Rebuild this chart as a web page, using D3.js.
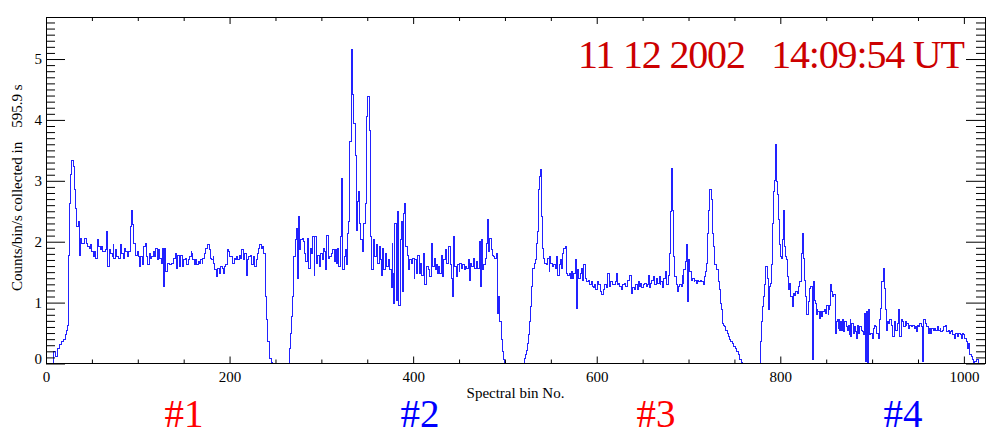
<!DOCTYPE html>
<html><head><meta charset="utf-8">
<script src="https://cdn.jsdelivr.net/npm/d3@7"></script>
<style>
body{margin:0;background:#fff}
svg{display:block}
text{font-family:"Liberation Serif","Times New Roman",serif}
</style>
</head><body>
<svg id="c" width="995" height="436"></svg>
<script>
// ---- data (spectral bin number -> counts/bin/s) ----
const binsA = [
0,8,10,12,13,15,17,19,21,22,
23,24,25,26,27,28,30,31,32,33,
35,36,37,38,39,41,42,44,45,47,
48,50,52,53,54,56,57,59,61,62,
65,66,67,69,70,72,73,74,76,77,
79,81,82,84,85,87,89,90,92,93,
94,95,97,98,100,101,102,103,105,106,
108,110,111,113,114,115,117,118,119,121,
123,124,126,127,128,129,130,132,134,135,
137,139,141,142,143,145,146,147,149,150,
152,153,155,156,158,159,160,162,163,164,
166,167,168,170,171,173,174,176,178,179,
180,182,183,184,186,187,189,190,192,193,
195,196,198,199,200,202,203,205,206,208,
209,211,212,213,215,216,218,219,221];
const countsA = [
0,0.20,0.11,0.20,0.25,0.31,0.36,0.40,0.47,0.55,
0.63,1.02,1.78,2.63,3.10,3.34,3.23,2.85,2.55,2.25,
2.33,2.19,1.78,2.05,1.97,1.97,2.06,1.97,1.92,1.89,
1.95,1.84,1.76,1.84,1.73,2.03,1.92,1.87,1.92,1.84,
1.87,2.17,1.59,1.87,1.81,1.76,1.95,1.73,1.87,1.76,
1.73,1.95,1.81,1.73,1.89,1.84,1.76,1.84,2.25,2.52,
2.28,1.97,1.87,1.78,1.84,1.76,1.59,1.76,1.62,1.92,
1.97,1.76,1.62,1.81,1.73,1.76,1.84,1.76,1.89,1.70,
1.87,1.73,1.65,1.89,1.26,1.89,1.51,1.65,1.65,1.62,
1.65,1.73,1.81,1.56,1.78,1.59,1.70,1.78,1.59,1.70,
1.73,1.62,1.70,1.76,1.84,1.81,1.70,1.62,1.70,1.62,
1.67,1.65,1.70,1.65,1.73,1.81,1.89,1.95,1.87,1.73,
1.70,1.76,1.65,1.54,1.43,1.56,1.48,1.59,1.56,1.48,
1.59,1.62,1.87,1.84,1.76,1.76,1.65,1.73,1.70,1.76,
1.70,1.78,1.73,1.87,1.70,1.81,1.45,1.70,1.76];

const binsB = [
223,224,226,227,229,230,232,233,235,236,
237,239,240,241,243,244,246,247,265,266,
268,269,270,272,273,274,275,276,277,279,
280,282,283,285,286,288,289,290,292,293,
295,296,298,299,301,302,303,305,306,308,
309,311,312,314,315,317,318,319,321,322,
323,325,326,327,329,330,331,333,334,335,
337,338,339,340,341,342,343,345,346,348,
349,350,352,353,354,355,357,358,360,361,
363,364,366,367,368,370,371,373,374,376,
377,378,379,380,382,383,384,386,387,388,
389,391,392,394,395,396,398,399,401,402,
404,405,407,408,409,411,412,414,415,417,
418,420,421,423,424,425,427,428];
const countsB = [
1.78,1.62,1.76,1.59,1.70,1.81,1.89,1.95,1.89,1.92,
1.81,1.10,0.72,0.36,0.19,0.09,0.02,0,0.25,0.50,
0.77,1.10,1.76,2.03,2.22,1.40,2.41,1.87,2.03,2.06,
2.00,1.81,1.67,2.06,1.56,1.89,1.81,2.08,1.45,2.08,
1.65,1.78,1.59,1.81,1.70,1.89,1.84,1.54,2.11,1.73,
1.76,1.81,1.87,1.67,1.87,1.65,1.89,1.59,2.08,3.04,
1.54,1.76,1.87,1.62,2.14,2.33,3.64,5.15,4.41,3.94,
3.42,2.19,2.66,2.82,2.66,2.30,2.03,1.84,2.30,2.63,
4.05,4.38,3.83,2.74,2.08,1.54,2.03,1.76,1.95,1.65,
1.92,1.70,1.45,1.89,1.54,1.81,1.59,1.70,1.54,1.24,
1.97,1.48,0.99,2.30,1.04,2.49,0.96,2.03,2.33,1.18,
2.47,2.63,1.92,1.78,1.54,1.70,1.65,1.73,1.40,1.70,
1.48,1.78,1.48,1.65,1.45,1.81,1.29,1.54,1.59,1.54,
1.43,1.97,1.59,1.73,1.54,1.62,1.48,1.59];

const binsC = [
429,431,432,433,435,436,438,439,441,442,
443,444,445,447,448,450,451,453,454,456,
457,458,460,461,463,464,466,467,469,470,
472,473,474,476,477,479,480,481,482,483,
485,486,488,489,491,492,493,494,496,497,
498,500,501,521,522,523,525,526,527,528,
529,530,532,533,534,536,537,538,539,540,
541,542,543,545,546,548,549,550,552,553,
555,556,557,559,560,562,563,564,566,567,
568,570,571,572,574,575,577,578,579,580,
582,583,585,586,588,589,591,592,594,595,
596,598,599,601,602,604,605,607,608,609,
611,612,614,615,617,618,620,621,623,624,
625,627,628,630,631,633,634,636];
const countsC = [
1.48,1.78,1.43,1.70,1.87,1.65,1.89,1.92,1.62,1.40,
1.10,2.08,1.59,1.43,1.62,1.51,1.65,1.56,1.62,1.54,
1.59,1.56,1.70,1.37,1.65,1.59,1.73,1.56,1.67,1.56,
2.00,1.26,2.03,1.54,1.62,1.73,1.97,2.36,1.84,2.06,
1.87,1.78,1.76,1.73,1.81,0.82,1.10,0.69,0.39,0.20,
0.06,0.01,0,0.09,0.14,0.22,0.33,0.47,0.69,0.93,
1.26,1.56,1.65,1.70,1.97,2.17,2.85,3.07,3.18,2.41,
1.89,1.73,1.65,1.62,1.73,1.51,1.76,1.65,1.59,1.62,
1.56,1.76,1.45,1.62,1.70,1.56,1.81,1.89,1.92,1.48,
1.45,1.48,1.40,1.51,1.40,1.48,1.70,0.91,1.54,1.40,
1.48,1.56,1.37,1.62,1.40,1.34,1.37,1.29,1.34,1.26,
1.24,1.29,1.21,1.34,1.29,1.18,1.13,1.21,1.26,1.29,
1.24,1.48,1.26,1.34,1.29,1.29,1.34,1.48,1.29,1.32,
1.26,1.21,1.29,1.32,1.26,1.34,1.37,1.45];

const binsD = [
638,639,641,642,644,645,647,648,649,651,
652,654,655,656,657,659,660,662,663,665,
666,668,669,670,672,673,675,676,678,679,
680,681,682,683,684,685,687,688,689,690,
692,693,694,695,697,698,699,700,701,703,
704,706,707,709,710,711,713,714,716,717,
719,720,721,722,723,725,726,727,728,730,
731,733,734,735,736,737,738,739,740,742,
743,744,745,746,748,749,751,752,754,755,
756,758,759,778,779,780,781,782,783,784,
786,787,788,789,790,791,792,793,794,795,
796,797,798,799,800,801,802,804,805,806,
807,808,809,810,811,813,814,816,817,819,
820,821,823,824,825,826,827,828,829,831];
const countsD = [
1.15,1.24,1.21,1.29,1.21,1.35,1.26,1.32,1.24,1.29,
1.32,1.26,1.29,1.45,1.24,1.32,1.37,1.43,1.29,1.40,
1.32,1.43,1.29,1.35,1.24,1.40,1.51,1.29,1.45,1.81,
2.49,3.21,3.18,2.52,1.76,1.43,1.29,1.18,1.26,1.29,
1.26,1.45,1.32,1.54,1.67,1.95,1.02,1.70,1.51,1.37,
1.40,1.35,1.37,1.32,1.37,1.35,1.37,1.35,1.29,1.43,
1.51,1.65,2.14,2.52,2.85,2.69,2.14,1.92,1.62,1.59,
1.54,1.35,1.21,0.99,0.88,0.66,0.63,0.61,0.55,0.53,
0.50,0.44,0.39,0.36,0.33,0.28,0.25,0.20,0.14,0.09,
0.06,0.02,0,0.36,0.61,0.69,0.93,1.10,1.29,1.59,
1.40,0.88,1.26,1.32,1.62,1.84,2.30,2.82,3.01,3.59,
2.99,2.77,2.36,1.95,1.76,1.73,2.03,2.52,1.92,1.76,
1.70,1.43,1.21,1.32,1.10,0.93,1.15,1.12,1.18,1.15,
1.26,1.35,1.81,2.14,1.73,1.37,1.10,0.99,0.80,1.02];

const binsE = [
832,833,835,836,837,838,839,840,841,843,
844,845,846,848,849,850,852,853,854,855,
856,857,858,860,861,862,863,864,865,866,
867,868,869,870,872,873,874,875,876,877,
878,880,881,882,883,884,885,886,888,889,
891,892,893,894,895,896,897,898,900,901,
903,904,905,907,908,909,910,912,913,914,
915,916,917,918,919,921,922,924,925,926,
928,929,930,932,933,934,936,937,938,940,
941,943,944,946,947,948,949,951,952,954,
955,956,958,959,961,962,964,965,967,968,
969,971,972,974,975,977,978,980,981,983,
984,985,987,988,990,991,993,994,996,997,
998,1000,1001,1003,1004,1005,1006,1008,1009,1011,
1012,1014,1016,1023];
const countsE = [
1.23,1.26,0.06,1.34,1.04,0.99,0.80,0.88,0.85,0.74,
0.85,0.77,0.85,0.88,0.82,0.96,0.80,0.88,0.96,1.29,
1.18,1.10,1.13,0.50,0.69,0.72,0.58,0.72,0.55,0.69,
0.55,0.72,0.52,0.69,0.61,0.55,0.63,0.47,0.72,0.44,
0.66,0.50,0.61,0.52,0.41,0.63,0.50,0.61,0.55,0.52,
0.47,0.82,0.03,0.85,0.02,0.88,0.47,0.50,0.41,0.58,
0.63,0.61,0.50,0.41,0.72,0.91,1.34,1.56,1.29,1.23,
0.88,0.55,0.69,0.66,0.72,0.63,0.44,0.69,0.63,0.55,
0.66,0.88,0.44,0.72,0.69,0.61,0.69,0.63,0.66,0.58,
0.63,0.61,0.63,0.58,0.61,0.52,0.63,0.61,0.66,0.61,
0.03,0.72,0.66,0.61,0.50,0.58,0.50,0.58,0.55,0.58,
0.55,0.61,0.55,0.58,0.52,0.55,0.61,0.63,0.52,0.55,
0.50,0.52,0.55,0.47,0.41,0.50,0.44,0.50,0.47,0.41,
0.50,0.47,0.41,0.36,0.25,0.33,0.14,0.11,0.06,0.02,
0.03,0.06,0,0];

const xMajorTicks = [0, 200, 400, 600, 800, 1000];
const yMajorTicks = [0, 1, 2, 3, 4, 5];
const titleText = "11 12 2002   14:09:54 UT";
const xTitle = "Spectral bin No.";
const yTitleA = "Counts/bin/s collected in";
const yTitleB = "595.9 s";
const detectorLabels = ["#1", "#2", "#3", "#4"];
const detectorCenters = [184, 420, 656, 903];

// ---- assemble ----
const binNo = [].concat(binsA, binsB, binsC, binsD, binsE);
const counts = [].concat(countsA, countsB, countsC, countsD, countsE);
const data = binNo.map((b, i) => ({bin: b, v: counts[i]}));

const L = 46, R = 985, T = 17, B = 363.5;
const x = d3.scaleLinear().domain([0, 1023]).range([L, R]);
const y = d3.scaleLinear().domain([0, 5.69]).range([B, T]);

const svg = d3.select("#c");
svg.append("rect").attr("width", 995).attr("height", 436).attr("fill", "#fff");

// spectrum (histogram steps)
svg.append("path")
  .datum(data)
  .attr("fill", "none")
  .attr("stroke", "#2222ff")
  .attr("stroke-width", 1)
  .attr("shape-rendering", "crispEdges")
  .attr("d", d3.line().x(d => x(d.bin)).y(d => y(d.v)).curve(d3.curveStepAfter));

// frame
svg.append("rect")
  .attr("x", L + 0.5).attr("y", T + 0.5)
  .attr("width", R - L).attr("height", B - T - 0.5)
  .attr("fill", "none").attr("stroke", "#000").attr("stroke-width", 1);

function style(g) {
  g.select(".domain").remove();
  g.selectAll("line").attr("stroke", "#000");
  g.selectAll("text").attr("fill", "#000")
    .style("font-family", '"Liberation Serif","Times New Roman",serif')
    .style("font-size", "15px");
}

const xMinor = d3.range(0, 1024, 50).filter(v => v % 200 !== 0);
const yMinor = d3.range(0, 57).map(i => i / 10).filter(v => Math.abs(v - Math.round(v)) > 1e-6);

// bottom
svg.append("g").attr("transform", `translate(0,${B})`)
  .call(d3.axisBottom(x).tickValues(xMajorTicks).tickFormat(d3.format("d")).tickSizeInner(-7).tickSizeOuter(0).tickPadding(8))
  .call(style);
svg.append("g").attr("transform", `translate(0,${B})`)
  .call(d3.axisBottom(x).tickValues(xMinor).tickFormat("").tickSizeInner(-4).tickSizeOuter(0))
  .call(style);
// top
svg.append("g").attr("transform", `translate(0,${T})`)
  .call(d3.axisTop(x).tickValues(xMajorTicks).tickFormat("").tickSizeInner(-7).tickSizeOuter(0))
  .call(style);
svg.append("g").attr("transform", `translate(0,${T})`)
  .call(d3.axisTop(x).tickValues(xMinor).tickFormat("").tickSizeInner(-4).tickSizeOuter(0))
  .call(style);
// left
const gl = svg.append("g").attr("transform", `translate(${L},0)`)
  .call(d3.axisLeft(y).tickValues(yMajorTicks).tickFormat(d3.format("d")).tickSizeInner(-19).tickSizeOuter(0).tickPadding(4))
  .call(style);
gl.selectAll(".tick text").filter(d => d === 0).attr("y", -5);
svg.append("g").attr("transform", `translate(${L},0)`)
  .call(d3.axisLeft(y).tickValues(yMinor).tickFormat("").tickSizeInner(-9).tickSizeOuter(0))
  .call(style);
// right
svg.append("g").attr("transform", `translate(${R},0)`)
  .call(d3.axisRight(y).tickValues(yMajorTicks).tickFormat("").tickSizeInner(-19).tickSizeOuter(0))
  .call(style);
svg.append("g").attr("transform", `translate(${R},0)`)
  .call(d3.axisRight(y).tickValues(yMinor).tickFormat("").tickSizeInner(-9).tickSizeOuter(0))
  .call(style);

// titles
svg.append("text")
  .attr("x", 578).attr("y", 68)
  .attr("fill", "#cc0000").style("font-size", "40px")
  .attr("textLength", 387).attr("lengthAdjust", "spacing")
  .style("white-space", "pre")
  .text(titleText);

svg.append("text")
  .attr("x", (L + R) / 2).attr("y", 398)
  .attr("text-anchor", "middle").attr("fill", "#000").style("font-size", "15px")
  .text(xTitle);

const yt = svg.append("text")
  .attr("transform", "translate(22,291) rotate(-90)")
  .attr("fill", "#000").style("font-size", "15px");
yt.append("tspan").text(yTitleA);
yt.append("tspan").attr("dx", 14).text(yTitleB);

const detColors = ["#ff0000", "#0000ff", "#ff0000", "#0000ff"];
svg.selectAll("text.det").data(detectorLabels).enter().append("text")
  .attr("class", "det")
  .attr("x", (d, i) => detectorCenters[i]).attr("y", 427)
  .attr("text-anchor", "middle")
  .attr("fill", (d, i) => detColors[i])
  .style("font-size", "39px")
  .text(d => d);
</script>
</body></html>
